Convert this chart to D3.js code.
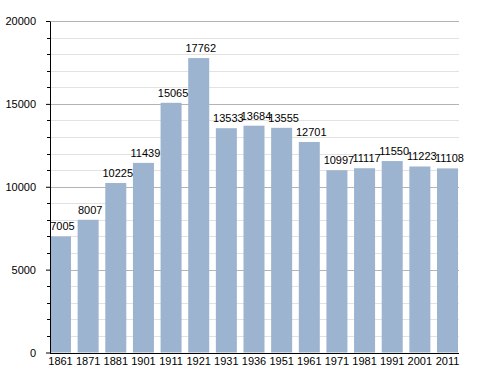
<!DOCTYPE html>
<meta charset="utf-8" />
<script src="https://d3js.org/d3.v7.min.js"></script>
<style>
    body { margin: 0; background: #fff; }
    text { font-family: 'Liberation Sans', Arial, sans-serif; }
</style>
<div id="my_dataviz"></div>
<script>
    // data
    const years = ['1861', '1871', '1881', '1901', '1911', '1921', '1931', '1936',
        '1951', '1961', '1971', '1981', '1991', '2001', '2011']
    const population = [7005, 8007, 10225, 11439, 15065, 17762, 13533, 13684,
        13555, 12701, 10997, 11117, 11550, 11223, 11108]
    const majorTicks = [0, 5000, 10000, 15000, 20000]

    const margin = { top: 21, right: 29, bottom: 20, left: 50 },
        width = 488 - margin.left - margin.right,
        height = 373 - margin.top - margin.bottom

    const svg = d3.select('#my_dataviz')
        .append('svg')
        .attr('width', 488)
        .attr('height', 373)
        .append('g')
        .attr('transform', `translate(${margin.left},${margin.top})`)

    const x = d3.scaleBand()
        .domain(years)
        .range([0, 408])
        .paddingInner(0.24)
        .paddingOuter(0)
        .align(0)

    const y = d3.scaleLinear().domain([0, 20000]).range([height - 0.5, 0])

    // minor gridlines every 1000
    const minor = d3.range(1000, 20000, 1000).filter((v) => v % 5000 !== 0)
    svg.selectAll('.minor')
        .data(minor)
        .join('line')
        .attr('x1', 0)
        .attr('x2', width)
        .attr('y1', (d) => Math.round(y(d)) + 0.5)
        .attr('y2', (d) => Math.round(y(d)) + 0.5)
        .attr('stroke', '#e2e2e2')

    svg.selectAll('.major')
        .data(majorTicks.slice(1))
        .join('line')
        .attr('x1', 0)
        .attr('x2', width)
        .attr('y1', (d) => Math.round(y(d)) + 0.5)
        .attr('y2', (d) => Math.round(y(d)) + 0.5)
        .attr('stroke', '#b4b4b4')

    // bars
    svg.selectAll('rect')
        .data(population)
        .join('rect')
        .attr('x', (d, i) => x(years[i]))
        .attr('y', (d) => y(d))
        .attr('width', x.bandwidth())
        .attr('height', (d) => y(0) - y(d))
        .attr('fill', '#9cb4cf')

    // value labels
    svg.selectAll('.val')
        .data(population)
        .join('text')
        .attr('class', 'val')
        .attr('x', (d, i) => x(years[i]) + x.bandwidth() / 2 + 2)
        .attr('y', (d) => y(d) - 6)
        .attr('text-anchor', 'middle')
        .attr('font-size', '11px')
        .attr('fill', '#000')
        .text((d) => d)

    // y axis with minor ticks
    const yAxis = svg.append('g')
        .call(d3.axisLeft(y).tickValues(majorTicks).tickFormat(d3.format('d'))
            .tickSize(4).tickSizeOuter(0).tickPadding(10))
    yAxis.select('.domain').attr('stroke', '#000')
    yAxis.selectAll('text').attr('font-size', '11px').attr('font-family', "'Liberation Sans', Arial, sans-serif")

    svg.selectAll('.minortick')
        .data(minor)
        .join('line')
        .attr('x1', -3)
        .attr('x2', 0)
        .attr('y1', (d) => Math.round(y(d)) + 0.5)
        .attr('y2', (d) => Math.round(y(d)) + 0.5)
        .attr('stroke', '#000')

    // x axis
    const xAxis = svg.append('g')
        .attr('transform', `translate(0,${height})`)
        .call(d3.axisBottom(x).tickSize(0).tickSizeOuter(0).tickPadding(4))
    xAxis.select('.domain').attr('d', `M0,0.5H${width}`).attr('stroke', '#000')
    xAxis.selectAll('text').attr('font-size', '11px').attr('font-family', "'Liberation Sans', Arial, sans-serif")
</script>
